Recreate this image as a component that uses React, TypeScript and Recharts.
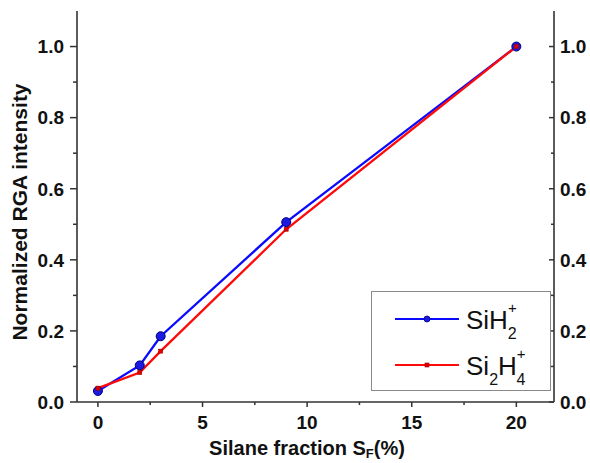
import React from "react";
import { ComposedChart, Line, XAxis, YAxis, Label } from "recharts";

// ---- data ----
const silaneFraction = [0, 2, 3, 9, 20];
const siH2Values = [0.031, 0.103, 0.185, 0.506, 1.0];
const si2H4Values = [0.039, 0.083, 0.143, 0.486, 1.0];

const xTicks = [0, 2.5, 5, 7.5, 10, 12.5, 15, 17.5, 20];
const xMajor = [0, 5, 10, 15, 20];
const yTicks = [0, 0.1, 0.2, 0.3, 0.4, 0.5, 0.6, 0.7, 0.8, 0.9, 1.0];
const yMajor = [0, 0.2, 0.4, 0.6, 0.8, 1.0];

const xTitle = { main: "Silane fraction S", sub: "F", tail: "(%)" };
const yTitle = "Normalized RGA intensity";

const BLUE = "#0a0aff";
const RED = "#ff0a0a";
const AXIS = "#333333";
const FONT = "'Liberation Sans', Arial, sans-serif";

const chartData = silaneFraction.map((x, i) => ({
  x,
  siH2: siH2Values[i],
  si2H4: si2H4Values[i],
}));

const isMajor = (list: number[], v: number) =>
  list.some((m) => Math.abs(m - v) < 1e-6);

const BottomTick = (props: any) => {
  const { x, y, payload } = props;
  const major = isMajor(xMajor, payload.value);
  return (
    <g>
      <line x1={x} x2={x} y1={y} y2={y + (major ? 5 : 3)} stroke={AXIS} strokeWidth={1.5} />
      {major && (
        <text x={x} y={y + 27} textAnchor="middle" fontFamily={FONT} fontWeight="bold" fontSize={19} fill="#111">
          {payload.value}
        </text>
      )}
    </g>
  );
};

const TopTick = (props: any) => {
  const { x, y, payload } = props;
  const major = isMajor(xMajor, payload.value);
  return (
    <line x1={x} x2={x} y1={y} y2={y + (major ? 5 : 3)} stroke={AXIS} strokeWidth={1.5} />
  );
};

const LeftTick = (props: any) => {
  const { x, y, payload } = props;
  const major = isMajor(yMajor, payload.value);
  return (
    <g>
      <line x1={x} x2={x - (major ? 7 : 4)} y1={y} y2={y} stroke={AXIS} strokeWidth={1.5} />
      {major && (
        <text x={x - 13} y={y} dy="0.36em" textAnchor="end" fontFamily={FONT} fontWeight="bold" fontSize={19} fill="#111">
          {payload.value.toFixed(1)}
        </text>
      )}
    </g>
  );
};

const RightTick = (props: any) => {
  const { x, y, payload } = props;
  const major = isMajor(yMajor, payload.value);
  return (
    <g>
      <line x1={x} x2={x - (major ? 5 : 3)} y1={y} y2={y} stroke={AXIS} strokeWidth={1.5} />
      {major && (
        <text x={x + 6} y={y} dy="0.36em" textAnchor="start" fontFamily={FONT} fontWeight="bold" fontSize={19} fill="#111">
          {payload.value.toFixed(1)}
        </text>
      )}
    </g>
  );
};

const RedSquare = (props: any) => {
  const { cx, cy, index } = props;
  return <rect key={"sq" + index} x={cx - 2} y={cy - 2} width={4} height={4} fill="#e00000" stroke="#a00000" strokeWidth={0.6} />;
};

const XTitle = (props: any) => {
  return (
    <text x={307} y={455} textAnchor="middle" fontFamily={FONT} fontWeight="bold" fontSize={20} fill="#111">
      {xTitle.main}
      <tspan fontSize={13} dy={3}>{xTitle.sub}</tspan>
      <tspan fontSize={20} dy={-3}>{xTitle.tail}</tspan>
    </text>
  );
};

const YTitle = (props: any) => {
  return (
    <text
      x={27}
      y={212}
      transform="rotate(-90, 27, 212)"
      textAnchor="middle"
      fontFamily={FONT}
      fontWeight="bold"
      fontSize={21}
      fill="#111"
    >
      {yTitle}
    </text>
  );
};

const LegendBox = () => (
  <svg
    width={181}
    height={101}
    style={{ position: "absolute", left: 371, top: 291 }}
  >
    <rect x={0.5} y={0.5} width={179} height={99} fill="#ffffff" stroke="#8a8a8a" strokeWidth={1} />
    <line x1={24} x2={88} y1={28} y2={28} stroke={BLUE} strokeWidth={2.2} />
    <circle cx={56} cy={28} r={3} fill="#1a1ae0" stroke="#000080" strokeWidth={0.8} />
    <text x={95} y={38} fontFamily={FONT} fontSize={26} fill="#111">
      SiH
      <tspan fontSize={15} dy={-16}>+</tspan>
      <tspan fontSize={16} dx={-9} dy={26}>2</tspan>
    </text>
    <line x1={24} x2={88} y1={74} y2={74} stroke={RED} strokeWidth={2.2} />
    <rect x={54} y={72} width={4} height={4} fill="#e00000" stroke="#a00000" strokeWidth={0.6} />
    <text x={95} y={84} fontFamily={FONT} fontSize={26} fill="#111">
      Si
      <tspan fontSize={16} dy={10}>2</tspan>
      <tspan fontSize={26} dy={-10}>H</tspan>
      <tspan fontSize={15} dy={-16}>+</tspan>
      <tspan fontSize={16} dx={-9} dy={26}>4</tspan>
    </text>
  </svg>
);

export default function App() {
  return (
    <div style={{ position: "absolute", left: 0, top: 0, width: 590, height: 463, background: "#fff" }}>
      <ComposedChart
        width={590}
        height={463}
        data={chartData}
        margin={{ top: 11, right: 6, bottom: 21, left: 17 }}
      >
        <XAxis
          xAxisId="bottom"
          type="number"
          dataKey="x"
          domain={[-1, 21.8]}
          allowDataOverflow
          ticks={xTicks}
          interval={0}
          height={40}
          tickSize={0}
          tickMargin={0}
          tick={<BottomTick />}
          axisLine={{ stroke: AXIS, strokeWidth: 1.6 }}
        >
          <Label content={<XTitle />} />
        </XAxis>
        <XAxis
          xAxisId="top"
          orientation="top"
          type="number"
          dataKey="x"
          domain={[-1, 21.8]}
          allowDataOverflow
          ticks={xTicks}
          interval={0}
          height={0}
          tickSize={0}
          tickMargin={0}
          tick={<TopTick />}
          axisLine={{ stroke: AXIS, strokeWidth: 1.6 }}
        />
        <YAxis
          yAxisId="left"
          type="number"
          domain={[0, 1.1]}
          allowDataOverflow
          ticks={yTicks}
          interval={0}
          width={60}
          tickSize={0}
          tickMargin={0}
          tick={<LeftTick />}
          axisLine={{ stroke: AXIS, strokeWidth: 1.6 }}
        >
          <Label content={<YTitle />} />
        </YAxis>
        <YAxis
          yAxisId="right"
          orientation="right"
          type="number"
          domain={[0, 1.1]}
          allowDataOverflow
          ticks={yTicks}
          interval={0}
          width={30}
          tickSize={0}
          tickMargin={0}
          tick={<RightTick />}
          axisLine={{ stroke: AXIS, strokeWidth: 1.6 }}
        />
        <Line
          xAxisId="bottom"
          yAxisId="left"
          type="linear"
          dataKey="siH2"
          stroke={BLUE}
          strokeWidth={2.3}
          dot={{ r: 4.5, fill: "#1a1ae0", stroke: "#000080", strokeWidth: 1 }}
          isAnimationActive={false}
        />
        <Line
          xAxisId="bottom"
          yAxisId="left"
          type="linear"
          dataKey="si2H4"
          stroke={RED}
          strokeWidth={2.3}
          dot={<RedSquare />}
          isAnimationActive={false}
        />
      </ComposedChart>
      <LegendBox />
    </div>
  );
}
